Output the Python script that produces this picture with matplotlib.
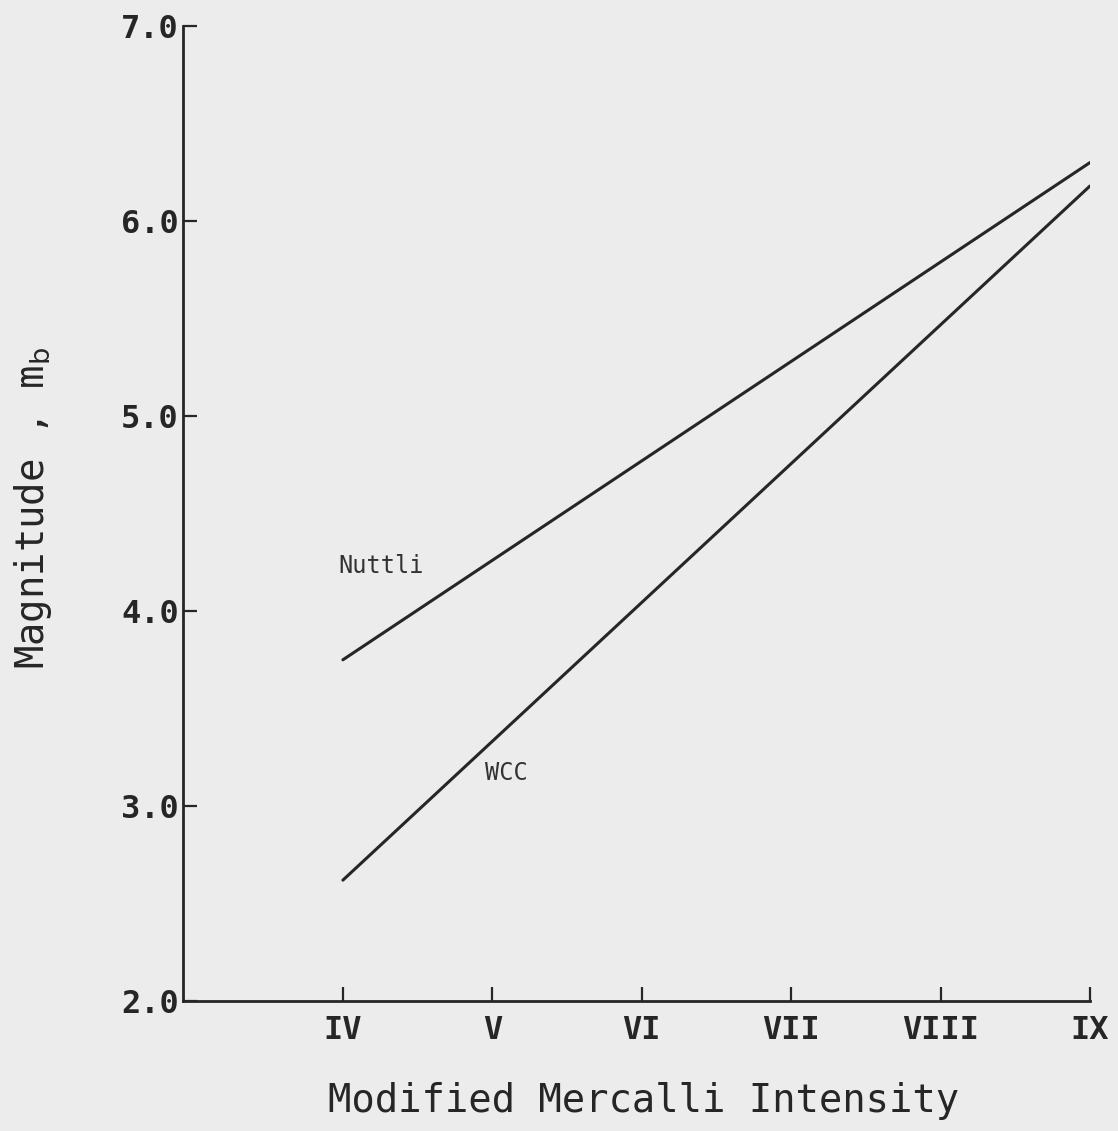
import numpy as np
import matplotlib.pyplot as plt

# Modified Mercalli Intensity (IV..IX) vs body-wave magnitude
intensity = [4, 9]
tick_pos = [4, 5, 6, 7, 8, 9]
tick_labels = ["IV", "V", "VI", "VII", "VIII", "IX"]
y_ticks = [2.0, 3.0, 4.0, 5.0, 6.0, 7.0]

nuttli = [3.75, 6.30]
wcc = [2.62, 6.18]

bg = "#ececec"
ink = "#262626"
mono = "DejaVu Sans Mono"

fig = plt.figure(figsize=(11.18, 11.31), dpi=100, facecolor=bg)
ax = fig.add_axes([0.1637, 0.1149, 0.8113, 0.8621])
ax.set_facecolor(bg)

ax.plot(intensity, nuttli, color=ink, lw=2.2, solid_capstyle="round")
ax.plot(intensity, wcc, color=ink, lw=2.2, solid_capstyle="round")

ax.text(3.97, 4.23, "Nuttli", fontsize=17, family=mono, color="#333333",
        ha="left", va="center")
ax.text(4.95, 3.17, "WCC", fontsize=17, family=mono, color="#333333",
        ha="left", va="center")

ax.set_xlim(2.93, 9)
ax.set_ylim(2, 7)
ax.set_xticks(tick_pos)
ax.set_xticklabels(tick_labels)
ax.set_yticks(y_ticks)
ax.set_yticklabels([f"{v:.1f}" for v in y_ticks])

for lab in ax.get_xticklabels() + ax.get_yticklabels():
    lab.set_family(mono)
    lab.set_fontweight("bold")
    lab.set_fontsize(23)
    lab.set_color(ink)

ax.tick_params(axis="x", direction="in", length=10, width=1.6, pad=10, colors=ink)
ax.tick_params(axis="y", direction="in", length=10, width=1.6, pad=3, colors=ink)

ax.spines["top"].set_visible(False)
ax.spines["right"].set_visible(False)
for s in ["left", "bottom"]:
    ax.spines[s].set_linewidth(2)
    ax.spines[s].set_color(ink)

fig.text(644 / 1118, 1 - 1101 / 1131, "Modified Mercalli Intensity",
         fontsize=28, family=mono, color=ink, ha="center", va="center")
fig.text(33 / 1118, 1 - 508 / 1131, r"Magnitude , m$_\mathrm{b}$",
         fontsize=28, family=mono, color=ink, ha="center", va="center",
         rotation=90)

fig.savefig("out.png", dpi=100, facecolor=bg)
